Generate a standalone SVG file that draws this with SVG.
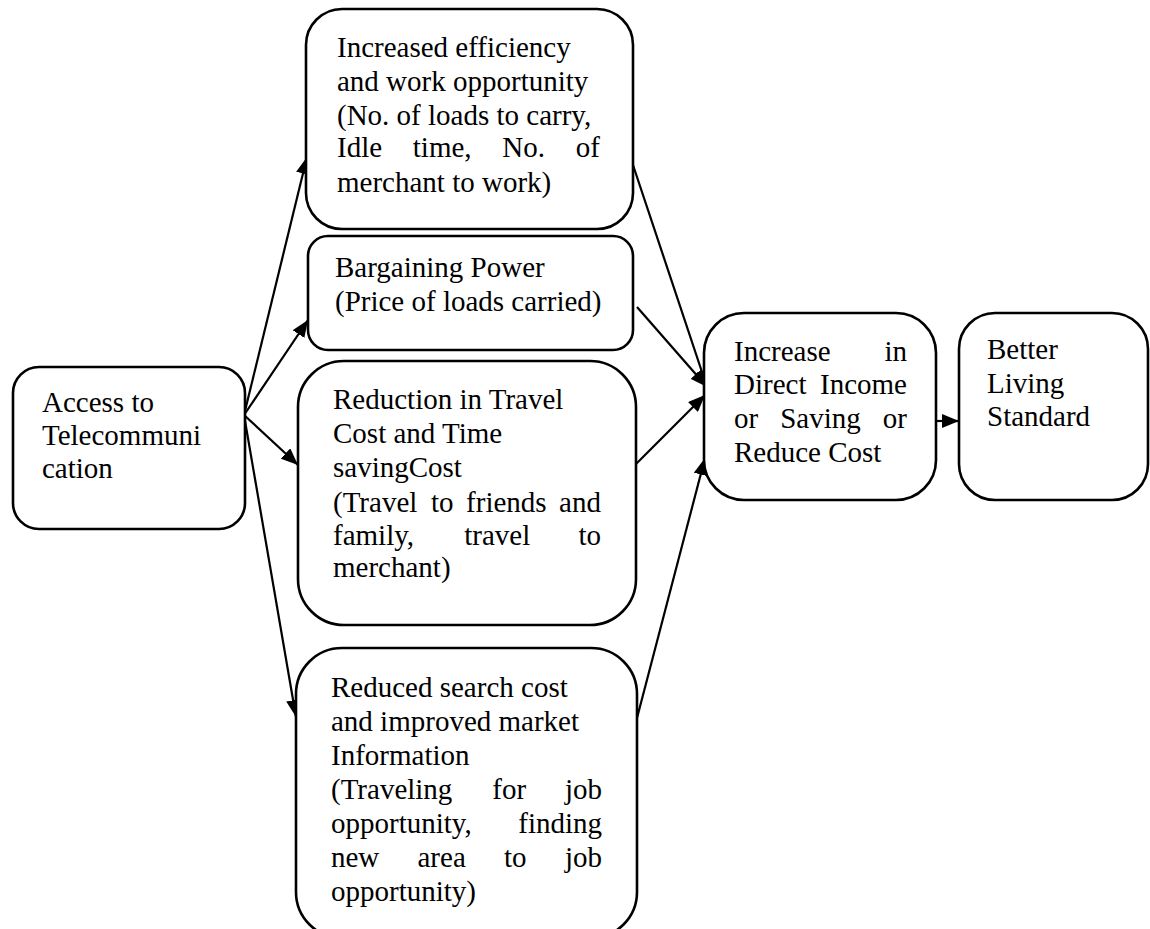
<svg xmlns="http://www.w3.org/2000/svg" width="1150" height="929" viewBox="0 0 1150 929">
<defs>
<style>
.box{fill:#fff;stroke:#000;stroke-width:2.6}
.t{font-family:"Liberation Serif","Times New Roman",serif;font-size:29px;fill:#000}
.e{text-anchor:end}
.c{fill:none;stroke:#000;stroke-width:2.2}
</style>
<marker id="ah" markerUnits="userSpaceOnUse" markerWidth="18" markerHeight="14" refX="17" refY="7" orient="auto">
<path d="M0,0 L17,7 L0,14 Z" fill="#000"/>
</marker>
</defs>
<rect width="1150" height="929" fill="#fff"/>
<g id="connectors">
<line class="c" x1="244" y1="415" x2="307" y2="157" marker-end="url(#ah)"/>
<line class="c" x1="244" y1="415" x2="308" y2="320" marker-end="url(#ah)"/>
<line class="c" x1="244" y1="415" x2="298" y2="465" marker-end="url(#ah)"/>
<line class="c" x1="244" y1="415" x2="296" y2="717" marker-end="url(#ah)"/>
<line class="c" x1="633" y1="165" x2="707" y2="387" marker-end="url(#ah)"/>
<line class="c" x1="637" y1="307" x2="707" y2="387" marker-end="url(#ah)"/>
<line class="c" x1="636" y1="464" x2="705" y2="395" marker-end="url(#ah)"/>
<line class="c" x1="637" y1="718" x2="705" y2="458" marker-end="url(#ah)"/>
<line class="c" x1="935" y1="421" x2="959" y2="421" marker-end="url(#ah)"/>
</g>
<g id="access">
<rect class="box" x="13" y="367" width="232" height="162" rx="26"/>
<text class="t" x="42" y="412">Access to</text>
<text class="t" x="42" y="445">Telecommuni</text>
<text class="t" x="42" y="478">cation</text>
</g>
<g id="efficiency">
<rect class="box" x="306" y="9" width="327" height="220" rx="36"/>
<text class="t" x="337" y="57">Increased efficiency</text>
<text class="t" x="337" y="91">and work opportunity</text>
<text class="t" x="337" y="125">(No. of loads to carry,</text>
<text class="t" y="157"><tspan x="337">Idle</tspan><tspan x="412.8">time,</tspan><tspan x="502.3">No.</tspan><tspan x="575.8">of</tspan></text>
<text class="t" x="337" y="192">merchant to work)</text>
</g>
<g id="bargaining">
<rect class="box" x="308" y="236" width="325" height="114" rx="20"/>
<text class="t" x="335" y="277">Bargaining Power</text>
<text class="t" x="335" y="311">(Price of loads carried)</text>
</g>
<g id="travel">
<rect class="box" x="298" y="361" width="338" height="264" rx="46"/>
<text class="t" x="333" y="409">Reduction in Travel</text>
<text class="t" x="333" y="443">Cost and Time</text>
<text class="t" x="333" y="477">savingCost</text>
<text class="t" y="512"><tspan x="333">(Travel</tspan><tspan x="430.9">to</tspan><tspan x="466.1">friends</tspan><tspan x="559.1">and</tspan></text>
<text class="t" y="545"><tspan x="333">family,</tspan><tspan x="464.2">travel</tspan><tspan x="578.4">to</tspan></text>
<text class="t" x="333" y="577">merchant)</text>
</g>
<g id="search">
<rect class="box" x="296" y="648" width="341" height="290" rx="46"/>
<text class="t" x="331" y="697">Reduced search cost</text>
<text class="t" x="331" y="731">and improved market</text>
<text class="t" x="331" y="765">Information</text>
<text class="t" y="799"><tspan x="331">(Traveling</tspan><tspan x="492.3">for</tspan><tspan x="564.9">job</tspan></text>
<text class="t" y="833"><tspan x="331">opportunity,</tspan><tspan x="602" class="e">finding</tspan></text>
<text class="t" y="867"><tspan x="331">new</tspan><tspan x="417.5">area</tspan><tspan x="504">to</tspan><tspan x="564.9">job</tspan></text>
<text class="t" x="331" y="901">opportunity)</text>
</g>
<g id="income">
<rect class="box" x="704" y="313" width="232" height="187" rx="40"/>
<text class="t" y="361"><tspan x="734">Increase</tspan><tspan x="907" class="e">in</tspan></text>
<text class="t" y="394"><tspan x="734">Direct</tspan><tspan x="907" class="e">Income</tspan></text>
<text class="t" y="428"><tspan x="734">or</tspan><tspan x="780.2">Saving</tspan><tspan x="907" class="e">or</tspan></text>
<text class="t" x="734" y="462">Reduce Cost</text>
</g>
<g id="living">
<rect class="box" x="959" y="313" width="189" height="187" rx="36"/>
<text class="t" x="987" y="359">Better</text>
<text class="t" x="987" y="393">Living</text>
<text class="t" x="987" y="426">Standard</text>
</g>
</svg>
